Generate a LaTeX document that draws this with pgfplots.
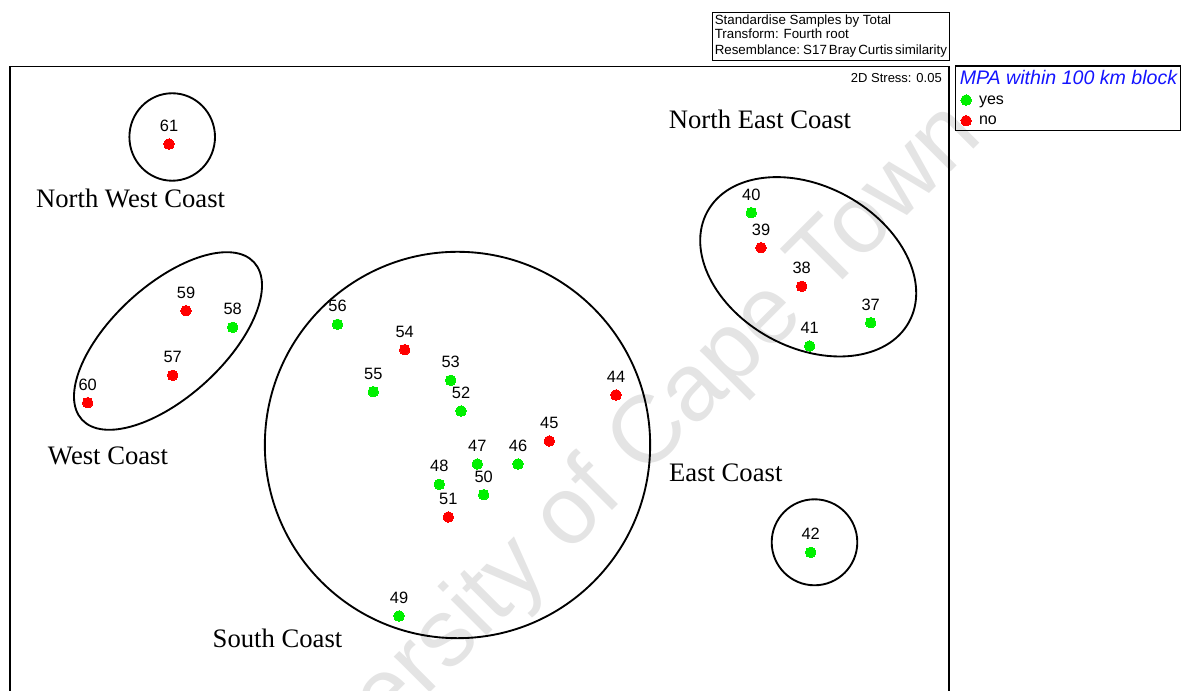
\documentclass[border=0pt]{standalone}
\usepackage{fontspec}
\setmainfont{Liberation Serif}
\setsansfont{Liberation Sans}
\newfontfamily\arial{Liberation Sans}
\usepackage{pgfplots}
\pgfplotsset{compat=1.18}
\usepackage{pgfplotstable}
\definecolor{ptgreen}{RGB}{0,240,0}
\definecolor{ptred}{RGB}{255,0,0}
\definecolor{wm}{RGB}{228,228,228}
\definecolor{lgblue}{RGB}{20,20,255}

% coordinates in pixels (x right, y up from bottom of picture)
\pgfplotstableread{
x y lab
232.7 363.7 58
337.5 366.7 56
450.7 310.7 53
373.3 299.3 55
461.0 280.0 52
477.3 227.0 47
518.0 227.0 46
439.3 206.7 48
483.7 196.3 50
399.0 75.0 49
751.3 478.3 40
870.7 368.3 37
809.7 345.0 41
810.7 138.7 42
}\yesdata
\pgfplotstableread{
x y lab
169.0 547.0 61
186.0 380.3 59
172.7 315.7 57
87.7 288.3 60
404.7 341.3 54
616.0 296.0 44
549.3 250.0 45
448.3 174.0 51
761.0 443.3 39
801.7 404.7 38
}\nodata

\begin{document}
\begin{tikzpicture}
\begin{axis}[
  scale only axis,
  width=888.75pt, height=518.25pt,
  xmin=0, xmax=1185, ymin=0, ymax=691,
  hide axis, clip=false,
  legend style={draw=none, fill=none, at={(0.81089,0.84023)}, anchor=west,
    inner sep=0pt, outer sep=0pt, column sep=5.7pt, row sep=4.3pt,
    nodes={inner sep=0pt, text height=8.6pt, text depth=2.6pt,
      font=\arial\fontsize{12}{14}\selectfont}},
  legend cell align=left,
  legend image code/.code={\draw[#1] plot coordinates {(0pt,0pt)};},
  every node near coord/.append style={font=\arial\fontsize{12.3}{14}\selectfont,
    text=black, anchor=base, yshift=9.5pt, inner sep=0pt},
]
% watermark
\node[rotate=45, anchor=base, text=wm, inner sep=0pt,
  font=\arial\fontsize{72}{86}\selectfont] at (axis cs:618,186) {University of Cape Town};

% plot frame (bottom is outside the picture)
\draw[line width=0.8pt] (axis cs:10,-5) -- (axis cs:10,624.3) -- (axis cs:949,624.3) -- (axis cs:949,-5);

% group outlines
\draw[line width=1.4pt] (axis cs:172.2,554) ellipse [x radius=32.1pt, y radius=32.8pt];
\draw[line width=1.4pt, rotate around={42.4:(axis cs:168,350)}] (axis cs:168,350) ellipse [x radius=87.45pt, y radius=41.9pt];
\draw[line width=1.4pt] (axis cs:457.5,246) ellipse [x radius=144.5pt, y radius=144.9pt];
\draw[line width=1.4pt, rotate around={-28.7:(axis cs:808.2,424.2)}] (axis cs:808.2,424.2) ellipse [x radius=86.2pt, y radius=60.45pt];
\draw[line width=1.4pt] (axis cs:814.5,148.7) ellipse [x radius=32.1pt, y radius=32.25pt];

% group names
\begin{scope}[every node/.style={anchor=base, inner sep=0pt, font=\fontsize{20}{24}\selectfont}]
\node at (axis cs:130.6,483.3) {North West Coast};
\node at (axis cs:760,562.7) {North East Coast};
\node at (axis cs:108,226) {West Coast};
\node at (axis cs:725.8,209.3) {East Coast};
\node at (axis cs:277.5,43) {South Coast};
\end{scope}

% info box
\draw[line width=1.1pt] (axis cs:712.3,630.7) rectangle (axis cs:949.3,678.7);
\begin{scope}[every node/.style={anchor=base west, inner sep=0pt, font=\arial\fontsize{10}{12}\selectfont}]
\node at (axis cs:714.5,666.2) {Standardise Samples by Total};
\node at (axis cs:714.5,652) {Transform: Fourth root};
\node at (axis cs:714.5,636.7) {\spaceskip=0.15em\relax Resemblance: S17 Bray Curtis similarity};
\end{scope}
\node[anchor=base east, inner sep=0pt, font=\arial\fontsize{9.75}{12}\selectfont] at (axis cs:942,608.3) {2D Stress: 0.05};

% legend frame and title
\draw[line width=1.1pt] (axis cs:955.7,625) rectangle (axis cs:1180.3,560.3);
\node[anchor=base west, inner sep=0pt, text=lgblue, font=\arial\itshape\fontsize{14.7}{17}\selectfont] at (axis cs:959.5,606) {MPA within 100 km block};

\addplot[only marks, mark=*, mark size=3.95pt, color=ptgreen,
  mark options={fill=ptgreen, draw=ptgreen, line width=0pt},
  nodes near coords, point meta=explicit symbolic]
  table[x=x, y=y, meta=lab] {\yesdata};
\addlegendentry{yes}
\addplot[only marks, mark=*, mark size=3.95pt, color=ptred,
  mark options={fill=ptred, draw=ptred, line width=0pt},
  nodes near coords, point meta=explicit symbolic]
  table[x=x, y=y, meta=lab] {\nodata};
\addlegendentry{no}
\end{axis}
\pgfresetboundingbox
\path (current axis.south west) rectangle (current axis.north east);
\end{tikzpicture}
\end{document}
